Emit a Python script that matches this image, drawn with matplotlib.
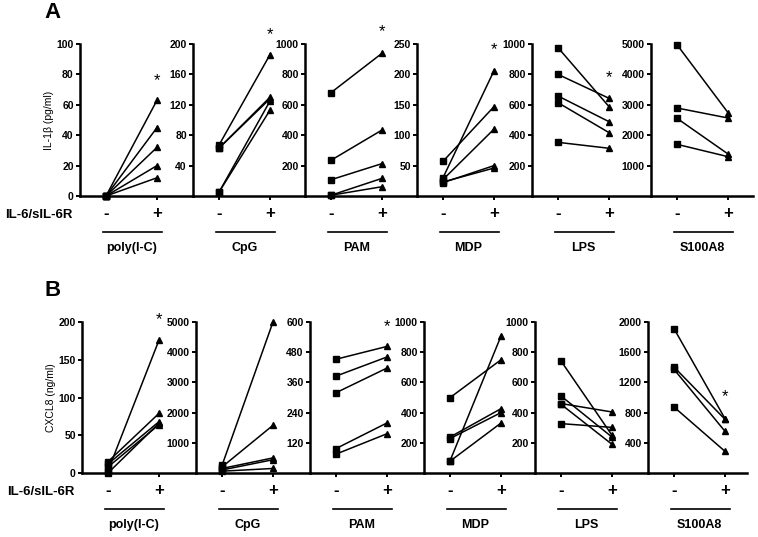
import matplotlib
matplotlib.use("Agg")
from matplotlib import pyplot
import matplotlib.transforms as mtransforms

pyplot.rcParams['font.family'] = ['Liberation Sans', 'DejaVu Sans']

# Stimuli (one panel per stimulus)
stimuli = ["poly(I-C)", "CpG", "PAM", "MDP", "LPS", "S100A8"]

# Panel A: IL-1beta (pg/ml), without (-) and with (+) IL-6/sIL-6R
il1b_pre = [[0, 0, 0, 0, 0],
            [67, 63, 63, 5, 5],
            [680, 235, 107, 5, 5],
            [30, 57, 27, 22, 23],
            [976, 800, 658, 614, 353],
            [4978, 2895, 2555, 1700]]
il1b_post = [[63, 45, 32, 20, 12],
             [186, 130, 128, 125, 113],
             [939, 434, 213, 116, 61],
             [206, 147, 110, 50, 46],
             [588, 643, 489, 417, 314],
             [2741, 2566, 1382, 1294]]
il1b_ymax = [100, 200, 1000, 250, 1000, 5000]
il1b_yticks = [[0, 20, 40, 60, 80, 100],
               [40, 80, 120, 160, 200],
               [200, 400, 600, 800, 1000],
               [50, 100, 150, 200, 250],
               [200, 400, 600, 800, 1000],
               [1000, 2000, 3000, 4000, 5000]]
il1b_star = [76, 212, 1079, 240, 776, None]

# Panel B: CXCL8 (ng/ml)
cxcl8_pre = [[3, 15, 12, 0, 8],
             [250, 200, 150, 100, 60],
             [452, 385, 319, 97, 75],
             [80, 499, 238, 228, 78],
             [742, 510, 460, 455, 327],
             [1912, 1404, 1373, 874]]
cxcl8_post = [[176, 79, 68, 66, 64],
              [5000, 1580, 500, 440, 150],
              [503, 461, 417, 199, 156],
              [907, 750, 426, 400, 331],
              [250, 238, 404, 190, 302],
              [720, 711, 552, 287]]
cxcl8_ymax = [200, 5000, 600, 1000, 1000, 2000]
cxcl8_yticks = [[0, 50, 100, 150, 200],
                [1000, 2000, 3000, 4000, 5000],
                [120, 240, 360, 480, 600],
                [200, 400, 600, 800, 1000],
                [200, 400, 600, 800, 1000],
                [400, 800, 1200, 1600, 2000]]
cxcl8_star = [203, None, 583, None, None, 1015]

W, H = 758., 537.
fig = pyplot.figure(figsize=(W / 100, H / 100), dpi=100)


def draw_row(spines_px, end_px, top_px, bottom_px, pre, post, ymax, yticks,
             stars, ylabel, letter):
    for i in range(len(stimuli)):
        x0 = spines_px[i]
        x1 = spines_px[i + 1] if i + 1 < len(spines_px) else end_px
        w = x1 - x0
        h = bottom_px - top_px
        ax = fig.add_axes([x0 / W, 1 - bottom_px / H, w / W, h / H])
        for a, b in zip(pre[i], post[i]):
            ax.plot([0, 1], [a, b], '-k', lw=1.1, clip_on=False)
            ax.plot([0], [a], 'ks', ms=4, clip_on=False)
            ax.plot([1], [b], 'k^', ms=4, clip_on=False)
        # "-" sits 26 px right of the spine, "+" 51 px further
        ax.set_xlim(-26. / 51, (w - 26.) / 51)
        ax.set_ylim(0, ymax[i])
        ax.set_yticks(yticks[i])
        ax.set_yticklabels([str(t) for t in yticks[i]], fontsize=7.5, fontweight='bold')
        ax.set_xticks([0, 1])
        ax.set_xticklabels(['-', '+'], fontsize=12, fontweight='bold')
        ax.tick_params(axis='both', direction='out', length=3, width=1.4)
        ax.tick_params(axis='x', pad=4)
        ax.tick_params(axis='y', pad=1.5)
        for s in ['top', 'right']:
            ax.spines[s].set_visible(False)
        for s in ['left', 'bottom']:
            ax.spines[s].set_linewidth(1.8)
        ax.patch.set_alpha(0)
        trans = mtransforms.blended_transform_factory(ax.transData, ax.transAxes)
        ax.plot([-0.06, 1.1], [-36. / h, -36. / h], '-k', lw=1.2,
                transform=trans, clip_on=False)
        ax.text(0.5, -52. / h, stimuli[i], transform=trans,
                ha='center', va='center', fontsize=9, fontweight='bold')
        if stars[i] is not None:
            ax.text(1, stars[i], '*', ha='center', va='center', fontsize=12)
        if i == 0:
            ax.set_ylabel(ylabel, fontsize=7.5, labelpad=2)
            ax.text(-8. / w, -19. / h, "IL-6/sIL-6R", transform=ax.transAxes,
                    ha='right', va='center', fontsize=9.5, fontweight='bold')
    fig.text(44 / W, 1 - (top_px - 31) / H, letter, fontsize=16, fontweight='bold',
             ha='left', va='center')


draw_row([80, 193, 305, 417, 532, 651], 753, 44, 196,
         il1b_pre, il1b_post, il1b_ymax, il1b_yticks, il1b_star,
         "IL-1\u03b2 (pg/ml)", "A")
draw_row([82, 196, 310, 424, 535, 648], 747, 322, 473,
         cxcl8_pre, cxcl8_post, cxcl8_ymax, cxcl8_yticks, cxcl8_star,
         "CXCL8 (ng/ml)", "B")

pyplot.savefig("out.png", dpi=100)
